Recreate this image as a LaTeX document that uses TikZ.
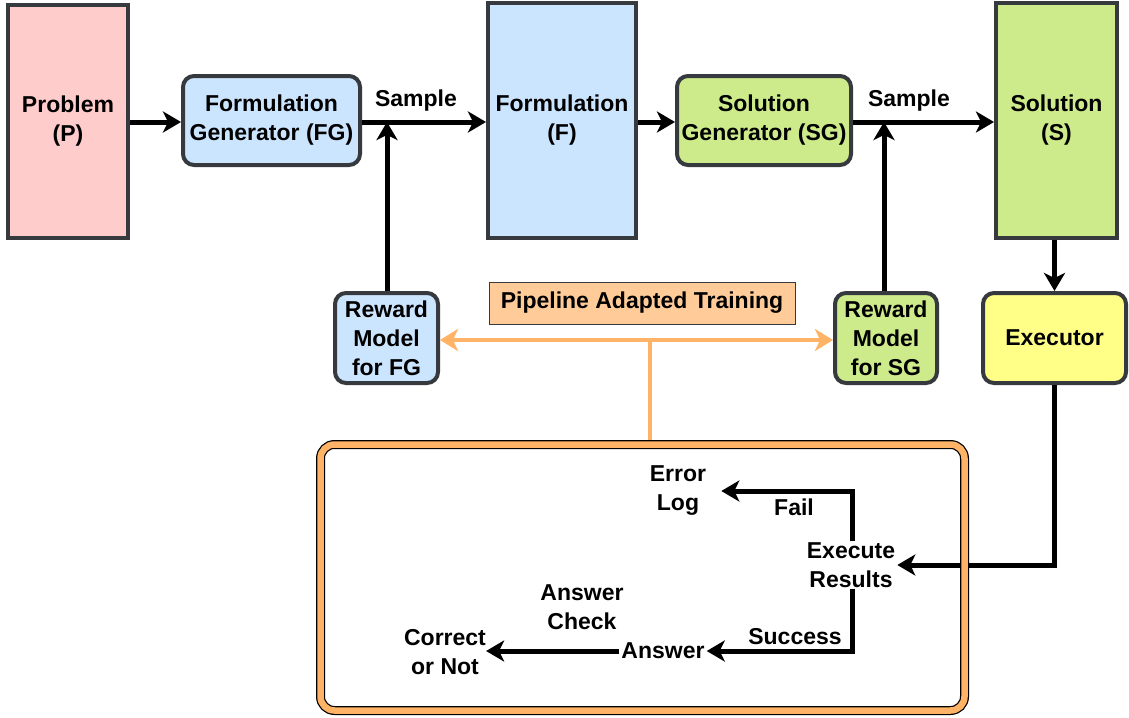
\documentclass[tikz,border=0pt]{standalone}
\usepackage{fontspec}
\setmainfont{Liberation Sans}
\usetikzlibrary{arrows.meta,positioning}
\definecolor{edge}{HTML}{36393D}
\definecolor{pinkfill}{HTML}{FFCCCC}
\definecolor{bluefill}{HTML}{CCE5FF}
\definecolor{greenfill}{HTML}{CDEB8B}
\definecolor{yellowfill}{HTML}{FFFF88}
\definecolor{peach}{HTML}{FFCC99}
\definecolor{orangeline}{HTML}{FFB366}
\tikzset{
  every node/.style={font=\fontsize{23}{29}\selectfont\bfseries, align=center, text=black},
  tallbox/.style={draw=edge, line width=4pt, minimum width=#1, minimum height=233pt, inner sep=0pt},
  genbox/.style={draw=edge, line width=4pt, rounded corners=11pt, inner sep=0pt},
  flow/.style={line width=5pt, -{Stealth[length=18pt,width=21pt,inset=5pt]}},
  lbl/.style={inner sep=0pt},
  otip/.style={line width=4pt, orangeline, {Stealth[length=18pt,width=22pt,inset=5pt]}-{Stealth[length=18pt,width=22pt,inset=5pt]}},
}
\begin{document}
\begin{tikzpicture}[x=1pt,y=-1pt]
\useasboundingbox (0,0) rectangle (1129,717);

% upper pipeline
\node[tallbox=120pt, fill=pinkfill] (P) at (68,121.5) {Problem\\(P)};
\node[genbox, fill=bluefill, minimum width=177pt, minimum height=89pt] (FG) at (271.5,120.5) {Formulation\\Generator (FG)};
\node[tallbox=148pt, fill=bluefill, minimum height=235pt] (F) at (562,120.5) {Formulation\\(F)};
\node[genbox, fill=greenfill, minimum width=174pt, minimum height=89pt] (SG) at (764,120.5) {Solution\\Generator (SG)};
\node[tallbox=121pt, fill=greenfill, minimum height=235pt] (S) at (1056.5,120.5) {Solution\\(S)};

% reward models, executor, training label
\node[genbox, fill=bluefill, minimum width=103pt, minimum height=90pt] (RF) at (386.5,338) {Reward\\Model\\for FG};
\node[genbox, fill=greenfill, minimum width=102pt, minimum height=90pt] (RS) at (886,338) {Reward\\Model\\for SG};
\node[genbox, fill=yellowfill, minimum width=143pt, minimum height=90pt] (EX) at (1054.5,338) {Executor};
\node[draw=edge, line width=0.8pt, fill=peach, minimum width=306pt, minimum height=42pt, inner sep=0pt] (PT) at (642,303) {Pipeline Adapted Training};

% junctions where the reward signals join the sampled outputs
\coordinate (J1) at (387,122);
\coordinate (J2) at (884,122);
\coordinate (PJ) at (650,340);

\draw[flow] (P.east |- 0,122) coordinate (p0) -- (FG.west |- p0);
\draw[flow] (FG.east |- J1) -- (F.west |- J1);
\node[lbl] (S1) at (416,101) {Sample};
\draw[flow] (RF.north -| J1) -- (J1);
\draw[flow] (F.east |- J1) -- (SG.west |- J1);
\draw[flow] (SG.east |- J2) -- (S.west |- J2);
\node[lbl] (S2) at (909,101) {Sample};
\draw[flow] (RS.north -| J2) -- (J2);
\draw[flow] (S.south -| EX) -- (EX.north);

% execution feedback
\node[inner xsep=2pt, inner ysep=1pt] (ER) at (851,565) {Execute\\Results};
\node[inner xsep=15pt, inner ysep=0pt] (EL) at (678,491) {Error\\Log};
\node[inner xsep=2pt, inner ysep=0pt] (AN) at (663,651) {Answer};
\node[inner sep=0pt] (CN) at (445,652) {Correct\\or Not};
\node[lbl] (FL) at (794,507) {Fail};
\node[lbl] (SC) at (795,637) {Success};
\node[lbl] (AC) at (582,607) {Answer\\Check};

\draw[flow] (EX.south) |- (ER.east);
\draw[flow] (ER.north -| 852,0) |- (EL.east);
\draw[flow] (ER.south -| 852,0) |- (AN.east);
\draw[flow] (AN.west) -- (CN.east |- AN.west);

% training signal
\draw[otip] (RF.east |- PJ) -- (RS.west |- PJ);
\draw[line width=4pt, orangeline] (PJ) -- (650,440) coordinate (BT);

% frame around the execution feedback
\draw[line width=9pt, black, rounded corners=14pt] (320.5,444.5) rectangle (964.5,710.5);
\draw[line width=6.5pt, orangeline, rounded corners=14pt] (320.5,444.5) rectangle (964.5,710.5);
\end{tikzpicture}
\end{document}
